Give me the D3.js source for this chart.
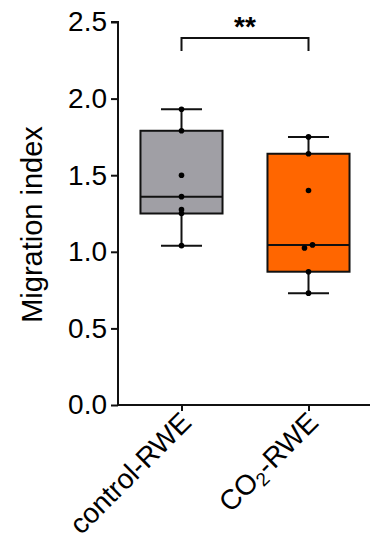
<!DOCTYPE html>
<html>
<head>
<meta charset="utf-8">
<script src="https://cdn.jsdelivr.net/npm/d3@7"></script>
<style>
  html, body { margin: 0; padding: 0; background: #fff; }
  svg { display: block; font-family: "Liberation Sans", Arial, Helvetica, sans-serif; }
</style>
</head>
<body>
<svg id="chart" width="372" height="550"></svg>
<script>
// Groups and their individual measurements
const categories = ["control-RWE", "CO2-RWE"];
const controlValues = [1.04, 1.25, 1.275, 1.36, 1.50, 1.79, 1.93];
const co2Values = [0.73, 0.87, 1.025, 1.045, 1.40, 1.64, 1.75];
const yTicks = [0.0, 0.5, 1.0, 1.5, 2.0, 2.5];
const significance = "**";

const seriesValues = [controlValues, co2Values];
const fills = ["#a09fa5", "#ff6600"];

const svg = d3.select("#chart");
const W = 372, H = 550;
const margin = { left: 118, right: 0, top: 22, bottom: 145 };

const y = d3.scaleLinear().domain([0, 2.5]).range([H - margin.bottom, margin.top]);
const x = d3.scalePoint().domain(categories).range([margin.left, W - margin.right]).padding(0.5);
const step = x.step();
const boxW = step * 0.646;
const capW = boxW * 0.5;

// Quartiles by the (n + 1)p rule
function quantile(sorted, p) {
  const n = sorted.length;
  const pos = (n + 1) * p;
  const lo = Math.floor(pos), hi = Math.ceil(pos);
  const a = sorted[Math.max(0, Math.min(n - 1, lo - 1))];
  const b = sorted[Math.max(0, Math.min(n - 1, hi - 1))];
  return a + (b - a) * (pos - lo);
}

const stroke = "#111";
const groups = categories.map((c, i) => {
  const v = seriesValues[i].slice().sort(d3.ascending);
  return {
    cat: c, fill: fills[i], values: v,
    min: v[0], max: v[v.length - 1],
    q1: quantile(v, 0.25), med: quantile(v, 0.5), q3: quantile(v, 0.75)
  };
});

const g = svg.append("g");

groups.forEach(d => {
  const cx = x(d.cat);
  const gg = g.append("g");
  // whiskers
  gg.append("line").attr("x1", cx).attr("x2", cx).attr("y1", y(d.max)).attr("y2", y(d.q3))
    .attr("stroke", stroke).attr("stroke-width", 2);
  gg.append("line").attr("x1", cx).attr("x2", cx).attr("y1", y(d.q1)).attr("y2", y(d.min))
    .attr("stroke", stroke).attr("stroke-width", 2);
  gg.append("line").attr("x1", cx - capW / 2).attr("x2", cx + capW / 2).attr("y1", y(d.max)).attr("y2", y(d.max))
    .attr("stroke", stroke).attr("stroke-width", 2);
  gg.append("line").attr("x1", cx - capW / 2).attr("x2", cx + capW / 2).attr("y1", y(d.min)).attr("y2", y(d.min))
    .attr("stroke", stroke).attr("stroke-width", 2);
  // box
  gg.append("rect").attr("x", cx - boxW / 2).attr("y", y(d.q3))
    .attr("width", boxW).attr("height", y(d.q1) - y(d.q3))
    .attr("fill", d.fill).attr("stroke", stroke).attr("stroke-width", 2);
  // median
  gg.append("line").attr("x1", cx - boxW / 2).attr("x2", cx + boxW / 2).attr("y1", y(d.med)).attr("y2", y(d.med))
    .attr("stroke", stroke).attr("stroke-width", 2);

  // individual points; nearly coincident points are nudged apart
  const pts = d.values.map(v => ({ v, dx: 0 }));
  for (let k = 1; k < pts.length; k++) {
    if (Math.abs(y(pts[k].v) - y(pts[k - 1].v)) < 3.5 && pts[k - 1].dx === 0) {
      pts[k - 1].dx = -4; pts[k].dx = 4;
    }
  }
  gg.selectAll("circle").data(pts).join("circle")
    .attr("cx", p => cx + p.dx).attr("cy", p => y(p.v)).attr("r", 2.8).attr("fill", "#000");
});

// Y axis
const yAxis = d3.axisLeft(y).tickValues(yTicks).tickFormat(d3.format(".1f")).tickSize(7).tickPadding(4);
const ya = svg.append("g").attr("transform", `translate(${margin.left},0)`).call(yAxis);
ya.select(".domain").attr("stroke", stroke).attr("stroke-width", 2).attr("d", `M-7,${y(2.5)}H0V${y(0)}`);
ya.selectAll(".tick line").attr("stroke", stroke).attr("stroke-width", 2);
ya.selectAll(".tick text").attr("font-size", 28).attr("fill", "#000").attr("font-family", null);

// X axis
const xAxis = d3.axisBottom(x).tickSize(6).tickFormat("");
const xa = svg.append("g").attr("transform", `translate(0,${y(0)})`).call(xAxis);
xa.select(".domain").attr("stroke", stroke).attr("stroke-width", 2).attr("d", `M${margin.left},0H${W - 2}`);
xa.selectAll(".tick line").attr("stroke", stroke).attr("stroke-width", 2);

// Rotated category labels (CO2 gets a subscript)
xa.selectAll(".tick").each(function (c) {
  const t = d3.select(this).append("text")
    .attr("transform", "translate(11,19) rotate(-45)")
    .attr("text-anchor", "end")
    .attr("font-size", 28).attr("fill", "#000");
  if (c === "CO2-RWE") {
    t.append("tspan").text("CO");
    t.append("tspan").attr("font-size", 19).attr("dy", 5).text("2");
    t.append("tspan").attr("dy", -5).text("-RWE");
  } else {
    t.text(c);
  }
});

// Y axis title
svg.append("text")
  .attr("transform", `translate(42,${(y(0) + y(2.5)) / 2 + 11}) rotate(-90)`)
  .attr("text-anchor", "middle").attr("font-size", 29).attr("fill", "#000")
  .text("Migration index");

// Significance bracket
const bx1 = x(categories[0]), bx2 = x(categories[1]);
const by = 38;
svg.append("path").attr("d", `M${bx1},${by + 13}V${by}H${bx2}V${by + 13}`)
  .attr("fill", "none").attr("stroke", stroke).attr("stroke-width", 2);
svg.append("text").attr("x", (bx1 + bx2) / 2).attr("y", by - 2)
  .attr("text-anchor", "middle").attr("font-size", 28).attr("font-weight", "bold").attr("fill", "#000")
  .text(significance);
</script>
</body>
</html>
